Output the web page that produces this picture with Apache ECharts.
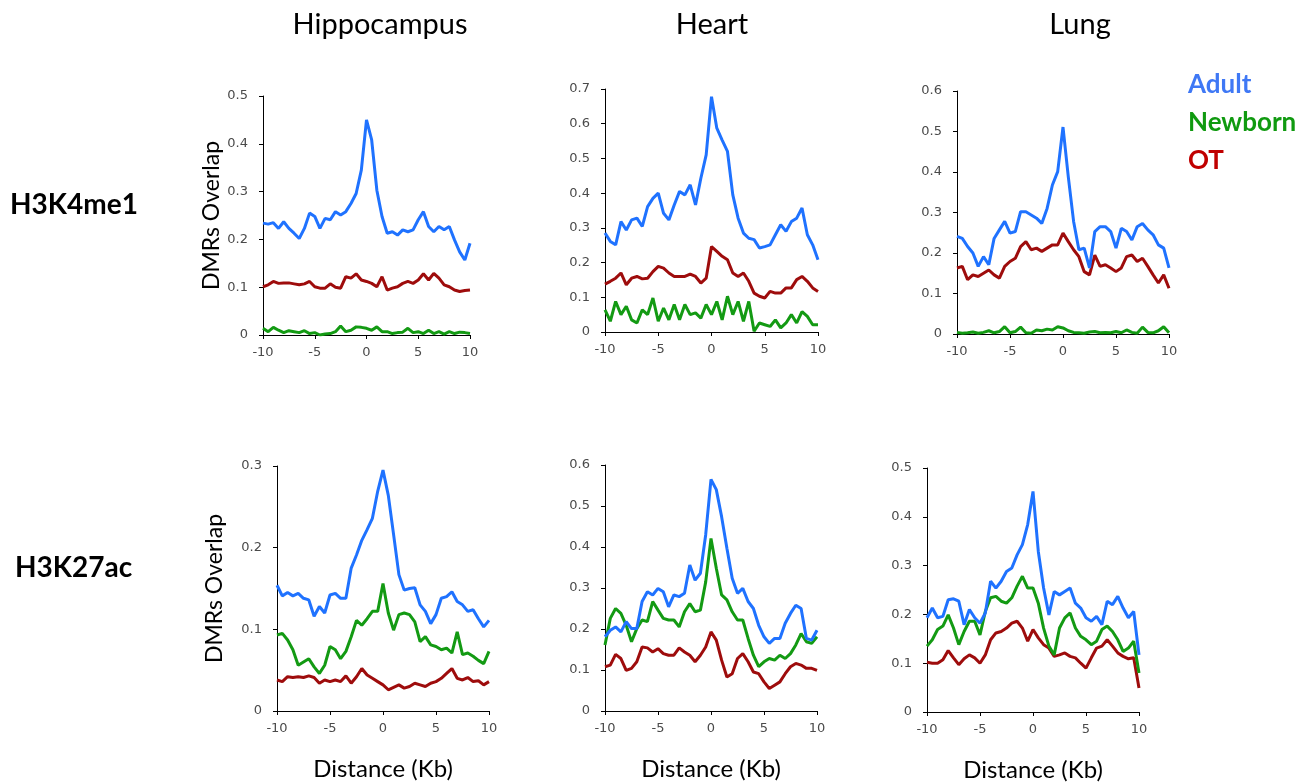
<!DOCTYPE html>
<html>
<head>
<meta charset="utf-8">
<script src="https://cdn.jsdelivr.net/npm/echarts@6/dist/echarts.min.js"></script>
<style>
html,body{margin:0;padding:0;background:#fff;}
#chart{width:1315px;height:784px;}
</style>
</head>
<body>
<div id="chart"></div>
<script>
// Distance (Kb) grid of the profiles
const distance = [-10,-9.5,-9,-8.5,-8,-7.5,-7,-6.5,-6,-5.5,-5,-4.5,-4,-3.5,-3,-2.5,-2,-1.5,-1,-0.5,0,0.5,1,1.5,2,2.5,3,3.5,4,4.5,5,5.5,6,6.5,7,7.5,8,8.5,9,9.5,10];

const columnTitles = ["Hippocampus", "Heart", "Lung"];
const rowTitles = ["H3K4me1", "H3K27ac"];
const seriesNames = ["Adult", "Newborn", "OT"];
const xTicks = [-10, -5, 0, 5, 10];
const yMaxK4me1 = [0.5, 0.7, 0.6];
const yMaxK27ac = [0.3, 0.6, 0.5];

// H3K4me1 - Hippocampus
const k4HippoAdult = [.234,.232,.235,.223,.237,.223,.213,.202,.223,.255,.248,.223,.244,.241,.258,.251,.258,.275,.296,.345,.450,.408,.303,.248,.213,.216,.209,.220,.216,.220,.241,.258,.227,.216,.227,.220,.227,.199,.174,.157,.192];
const k4HippoNewborn = [.014,.007,.016,.010,.005,.009,.007,.005,.009,.003,.005,0,.002,.003,.007,.019,.007,.010,.017,.016,.014,.010,.017,.007,.007,.003,.005,.006,.014,.005,.007,.003,.010,.003,.007,.002,.007,.003,.006,.005,.003];
const k4HippoOT = [.101,.105,.112,.108,.109,.109,.107,.105,.107,.112,.101,.098,.098,.107,.100,.098,.122,.119,.128,.115,.112,.108,.101,.122,.094,.098,.101,.108,.112,.108,.115,.128,.115,.129,.119,.105,.101,.094,.091,.093,.094];
// H3K4me1 - Heart
const k4HeartAdult = [.285,.261,.251,.318,.294,.323,.328,.304,.361,.385,.400,.342,.323,.366,.405,.395,.424,.366,.443,.510,.678,.587,.553,.520,.395,.328,.285,.270,.266,.242,.246,.251,.280,.309,.290,.318,.328,.357,.280,.251,.208];
const k4HeartNewborn = [.064,.031,.088,.050,.074,.035,.026,.064,.050,.098,.031,.069,.035,.079,.035,.079,.050,.055,.040,.079,.050,.088,.035,.103,.050,.088,.031,.088,.002,.026,.021,.016,.035,.012,.026,.050,.026,.059,.045,.021,.021];
const k4HeartOT = [.138,.146,.155,.170,.136,.155,.160,.153,.155,.174,.189,.184,.170,.160,.160,.160,.167,.160,.141,.155,.246,.232,.218,.208,.170,.160,.170,.146,.112,.103,.098,.117,.112,.112,.127,.127,.151,.160,.146,.127,.117];
// H3K4me1 - Lung
const k4LungAdult = [.241,.236,.216,.200,.167,.191,.171,.236,.257,.278,.249,.253,.302,.302,.294,.286,.273,.310,.368,.401,.511,.388,.278,.208,.212,.163,.253,.265,.265,.253,.212,.261,.253,.232,.265,.273,.257,.245,.220,.212,.163];
const k4LungNewborn = [.004,.002,.003,.005,.002,.004,.008,.003,.006,.018,.003,.006,.017,.003,.002,.010,.008,.012,.010,.018,.015,.008,.004,.003,.002,.005,.006,.003,.004,.003,.006,.003,.010,.004,.002,.017,.004,.003,.008,.018,.003];
const k4LungOT = [.163,.167,.134,.146,.142,.150,.158,.146,.138,.167,.179,.187,.216,.228,.208,.212,.204,.212,.220,.220,.249,.228,.208,.191,.154,.146,.195,.167,.171,.163,.154,.163,.191,.195,.179,.187,.167,.146,.126,.146,.113];
// H3K27ac - Hippocampus
const k27HippoAdult = [.154,.141,.145,.141,.144,.138,.136,.116,.128,.120,.142,.144,.138,.138,.175,.191,.209,.222,.236,.269,.295,.264,.216,.167,.148,.150,.151,.130,.122,.107,.118,.138,.140,.146,.134,.130,.122,.124,.113,.103,.111];
const k27HippoNewborn = [.093,.095,.087,.075,.056,.060,.064,.054,.046,.056,.079,.075,.064,.073,.091,.111,.105,.113,.122,.122,.156,.120,.099,.118,.120,.118,.109,.085,.091,.081,.079,.075,.077,.071,.097,.069,.071,.067,.062,.058,.073];
const k27HippoOT = [.038,.036,.042,.041,.042,.041,.043,.041,.034,.038,.036,.038,.036,.043,.034,.042,.052,.044,.040,.036,.032,.026,.029,.032,.028,.030,.034,.032,.030,.034,.036,.040,.046,.052,.040,.038,.041,.036,.037,.032,.036];
// H3K27ac - Heart
const k27HeartAdult = [.181,.197,.205,.193,.218,.201,.201,.267,.291,.283,.299,.291,.254,.283,.279,.287,.356,.319,.336,.430,.565,.540,.474,.397,.324,.287,.299,.267,.250,.209,.181,.165,.177,.177,.214,.238,.258,.250,.177,.173,.197];
const k27HeartNewborn = [.161,.226,.250,.238,.209,.169,.201,.222,.218,.267,.246,.226,.222,.222,.205,.242,.262,.242,.246,.315,.421,.348,.283,.271,.242,.222,.222,.177,.136,.108,.120,.128,.124,.136,.128,.140,.161,.189,.169,.165,.181];
const k27HeartOT = [.108,.112,.138,.128,.099,.104,.120,.156,.154,.144,.152,.140,.136,.136,.154,.144,.136,.120,.136,.156,.193,.173,.124,.083,.091,.128,.140,.120,.095,.091,.071,.055,.063,.071,.091,.108,.116,.112,.104,.104,.099];
// H3K27ac - Lung
const k27LungAdult = [.193,.213,.193,.196,.230,.232,.227,.179,.210,.193,.182,.203,.268,.254,.268,.288,.295,.322,.343,.384,.452,.329,.254,.199,.247,.240,.247,.254,.223,.213,.193,.186,.196,.179,.227,.220,.237,.213,.193,.206,.117];
const k27LungNewborn = [.135,.148,.169,.176,.199,.172,.138,.165,.186,.186,.158,.206,.234,.237,.227,.223,.234,.258,.278,.254,.254,.223,.172,.135,.117,.172,.193,.203,.172,.155,.148,.138,.145,.169,.176,.165,.148,.124,.131,.145,.080];
const k27LungOT = [.102,.100,.100,.107,.126,.111,.097,.109,.117,.111,.100,.117,.148,.162,.165,.172,.182,.186,.172,.145,.169,.152,.138,.131,.114,.117,.121,.114,.111,.100,.090,.111,.131,.135,.148,.135,.121,.114,.109,.111,.049];

const lineColors = ['#1f72ff', '#139a13', '#9e0c0c'];
const legendColors = ['#3f78f5', '#109a10', '#c00000'];

const panels = [
  {grid:{left:263, top:96, width:207, height:239}, yMax:yMaxK4me1[0], data:[k4HippoAdult,k4HippoNewborn,k4HippoOT], yName:'DMRs Overlap', yGap:39},
  {grid:{left:605, top:89, width:213, height:243}, yMax:yMaxK4me1[1], data:[k4HeartAdult,k4HeartNewborn,k4HeartOT]},
  {grid:{left:957, top:91, width:212, height:243}, yMax:yMaxK4me1[2], data:[k4LungAdult,k4LungNewborn,k4LungOT]},
  {grid:{left:277, top:466, width:212, height:245}, yMax:yMaxK27ac[0], data:[k27HippoAdult,k27HippoNewborn,k27HippoOT], yName:'DMRs Overlap', yGap:51, xName:'Distance (Kb)'},
  {grid:{left:605, top:465, width:212, height:246}, yMax:yMaxK27ac[1], data:[k27HeartAdult,k27HeartNewborn,k27HeartOT], xName:'Distance (Kb)'},
  {grid:{left:927, top:468, width:212, height:244}, yMax:yMaxK27ac[2], data:[k27LungAdult,k27LungNewborn,k27LungOT], xName:'Distance (Kb)'}
];

const tickFont = {fontFamily:'DejaVu Sans', fontSize:13, color:'#4a4a4a'};

const grids = [], xAxes = [], yAxes = [], series = [];
panels.forEach((p, i) => {
  grids.push(Object.assign({containLabel:false}, p.grid));
  xAxes.push({
    type:'value', gridIndex:i, min:-10, max:10, interval:5,
    axisLine:{show:true, onZero:false, lineStyle:{color:'#000', width:1}},
    axisTick:{show:true, length:4, lineStyle:{color:'#000'}},
    splitLine:{show:false},
    axisLabel:Object.assign({margin:11, formatter:v => xTicks.includes(v) ? String(v) : ''}, tickFont),
    name:p.xName || '', nameLocation:'middle', nameGap:46,
    nameTextStyle:{fontFamily:'Lato', fontSize:24, color:'#000'}
  });
  yAxes.push({
    type:'value', gridIndex:i, min:0, max:p.yMax, interval:0.1,
    axisLine:{show:true, onZero:false, lineStyle:{color:'#000', width:1}},
    axisTick:{show:true, length:4, lineStyle:{color:'#000'}},
    splitLine:{show:false},
    axisLabel:Object.assign({margin:15, formatter:v => String(Math.round(v*10)/10)}, tickFont),
    name:p.yName || '', nameLocation:'middle', nameGap:p.yGap || 40,
    nameTextStyle:{fontFamily:'Lato', fontSize:23, color:'#000'}
  });
  p.data.forEach((vals, s) => {
    series.push({
      type:'line', name:seriesNames[s], xAxisIndex:i, yAxisIndex:i,
      data:distance.map((d, k) => [d, vals[k]]),
      showSymbol:false, symbol:'none', smooth:false,
      lineStyle:{color:lineColors[s], width:3},
      itemStyle:{color:lineColors[s]},
      z: 3 - s
    });
  });
});

function label(text, x, y, font, fill, align) {
  return {type:'text', x:x, y:y, style:{text:text, font:font, fill:fill, align:align, verticalAlign:'middle', textAlign:align, textVerticalAlign:'middle'}};
}
const titleCenters = [380, 712, 1080];
const graphics = [];
columnTitles.forEach((t, i) => graphics.push(label(t, titleCenters[i], 25, '29px Lato', '#000', 'center')));
graphics.push(label(rowTitles[0], 10, 205, 'bold 28px Lato', '#000', 'left'));
graphics.push(label(rowTitles[1], 15, 568, 'bold 28px Lato', '#000', 'left'));
const legendYs = [85, 123, 161];
seriesNames.forEach((n, i) => graphics.push(label(n, 1188, legendYs[i], 'bold 26px Lato', legendColors[i], 'left')));

const chart = echarts.init(document.getElementById('chart'), null, {renderer:'canvas'});
chart.setOption({
  animation:false,
  backgroundColor:'#ffffff',
  grid:grids, xAxis:xAxes, yAxis:yAxes, series:series,
  graphic:graphics
});
</script>
</body>
</html>
